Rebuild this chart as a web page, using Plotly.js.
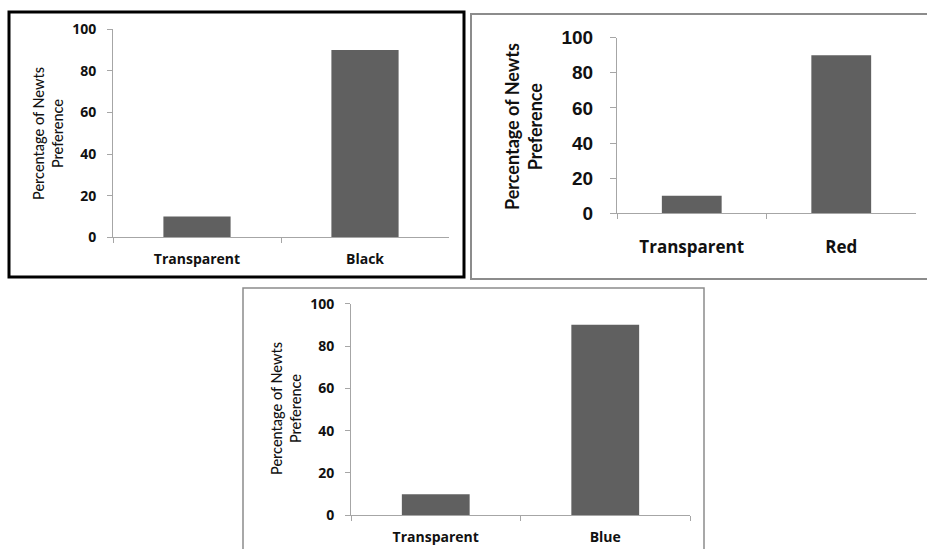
<!DOCTYPE html>
<html>
<head>
<meta charset="utf-8">
<script src="https://cdn.plot.ly/plotly-3.0.1.min.js"></script>
<style>html,body{margin:0;padding:0;background:#fff;}#chart{width:927px;height:549px;}</style>
</head>
<body>
<div id="chart"></div>
<script>
// ---- data ----
const catsBlack = ['Transparent', 'Black'];
const valsBlack = [10, 90];
const catsRed = ['Transparent', 'Red'];
const valsRed = [10, 90];
const catsBlue = ['Transparent', 'Blue'];
const valsBlue = [10, 90];
const yTickVals = [0, 20, 40, 60, 80, 100];
const yTitle = 'Percentage of Newts<br>Preference';

// ---- helpers ----
const W = 927, H = 549;
const fx = px => px / W;
const fy = py => 1 - py / H;
const barColor = '#606060';
const axisColor = '#a6a6a6';
const calibriLike = 'Lato, "Open Sans", sans-serif';
const boldLike = '"Open Sans", Lato, sans-serif';
const arialLike = '"Liberation Sans", Arial, sans-serif';

const traces = [
  {type: 'bar', x: catsBlack, y: valsBlack, xaxis: 'x', yaxis: 'y', marker: {color: barColor}, hoverinfo: 'x+y'},
  {type: 'bar', x: catsRed, y: valsRed, xaxis: 'x2', yaxis: 'y2', marker: {color: barColor}, hoverinfo: 'x+y'},
  {type: 'bar', x: catsBlue, y: valsBlue, xaxis: 'x3', yaxis: 'y3', marker: {color: barColor}, hoverinfo: 'x+y'}
];

function xAxis(domain, anchor, font, size, standoff) {
  return {
    domain: domain, anchor: anchor, showgrid: false, zeroline: false,
    showline: true, linecolor: axisColor, linewidth: 1,
    ticks: 'outside', tickson: 'boundaries', ticklen: 5, tickcolor: axisColor,
    tickfont: {family: font, size: size, color: '#111', weight: 'bold'},
    ticklabelstandoff: standoff, fixedrange: true
  };
}
function yAxis(domain, anchor, font, size, standoff, ticklen) {
  return {
    domain: domain, anchor: anchor, range: [0, 100], tickvals: yTickVals,
    showgrid: false, zeroline: false, showline: true, linecolor: axisColor, linewidth: 1,
    ticks: 'outside', ticklen: ticklen, tickcolor: axisColor,
    tickfont: {family: font, size: size, color: '#111', weight: 'bold'},
    ticklabelstandoff: standoff, fixedrange: true
  };
}

const layout = {
  width: W, height: H,
  margin: {l: 0, r: 0, t: 0, b: 0},
  paper_bgcolor: '#fff', plot_bgcolor: 'rgba(0,0,0,0)',
  showlegend: false, bargap: 0.6,
  xaxis: xAxis([fx(113), fx(449)], 'y', boldLike, 14, 9),
  yaxis: yAxis([fy(237.3), fy(29.3)], 'x', boldLike, 14, 8, 5),
  xaxis2: xAxis([fx(617), fx(916)], 'y2', boldLike, 17, 18),
  yaxis2: yAxis([fy(213.3), fy(37.7)], 'x2', arialLike, 19, 13, 6),
  xaxis3: xAxis([fx(351), fx(690)], 'y3', boldLike, 14, 9),
  yaxis3: yAxis([fy(515.3), fy(303.7)], 'x3', boldLike, 14, 8, 5),
  shapes: [
    {type: 'rect', xref: 'paper', yref: 'paper', x0: fx(9), x1: fx(464), y0: fy(277), y1: fy(12),
     line: {color: '#000', width: 3}},
    {type: 'rect', xref: 'paper', yref: 'paper', x0: fx(471), x1: fx(935), y0: fy(279), y1: fy(14),
     line: {color: '#8c8c8c', width: 2}},
    {type: 'rect', xref: 'paper', yref: 'paper', x0: fx(243), x1: fx(704), y0: fy(560), y1: fy(288),
     line: {color: '#8c8c8c', width: 1.5}}
  ],
  annotations: [
    {xref: 'paper', yref: 'paper', x: fx(48), y: fy(134), text: yTitle, showarrow: false, textangle: -90,
     xanchor: 'center', yanchor: 'middle', font: {family: calibriLike, size: 14.5, color: '#111', weight: 500}},
    {xref: 'paper', yref: 'paper', x: fx(524), y: fy(127), text: yTitle, showarrow: false, textangle: -90,
     xanchor: 'center', yanchor: 'middle', font: {family: calibriLike, size: 18, color: '#111', weight: 'bold'}},
    {xref: 'paper', yref: 'paper', x: fx(286), y: fy(409), text: yTitle, showarrow: false, textangle: -90,
     xanchor: 'center', yanchor: 'middle', font: {family: calibriLike, size: 14.5, color: '#111', weight: 500}}
  ]
};

Plotly.newPlot('chart', traces, layout, {displayModeBar: false, staticPlot: true});
</script>
</body>
</html>
